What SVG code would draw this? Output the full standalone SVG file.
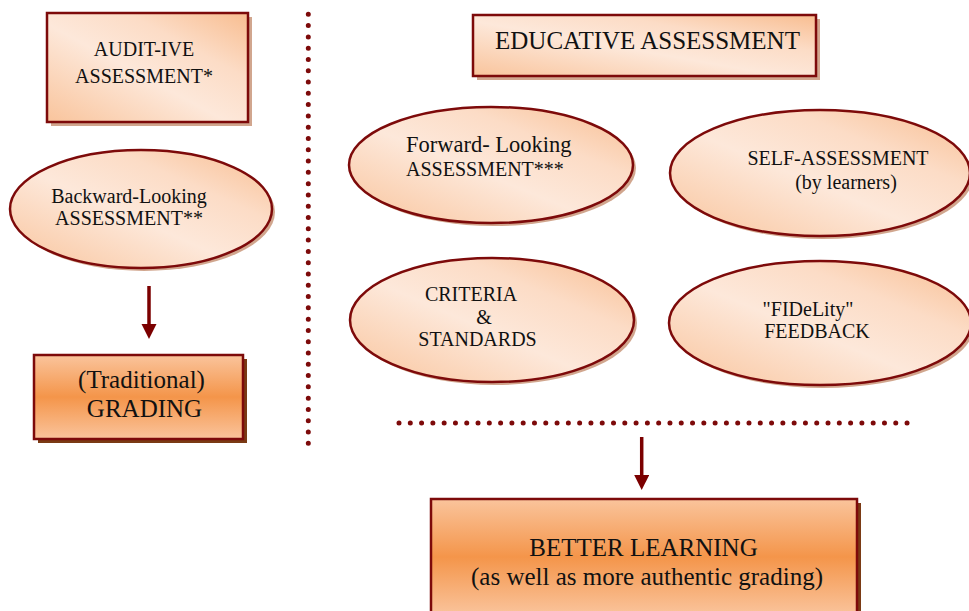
<svg xmlns="http://www.w3.org/2000/svg" width="969" height="611" viewBox="0 0 969 611">
<defs>
<linearGradient id="peach" x1="0" y1="1" x2="1" y2="0">
<stop offset="0" stop-color="#f9c49c"/>
<stop offset="0.45" stop-color="#fde8da"/>
<stop offset="0.7" stop-color="#fcdcc6"/>
<stop offset="1" stop-color="#f8bd90"/>
</linearGradient>
<linearGradient id="orange" x1="0" y1="0" x2="0" y2="1">
<stop offset="0" stop-color="#fac49c"/>
<stop offset="0.5" stop-color="#f4954a"/>
<stop offset="1" stop-color="#fac49c"/>
</linearGradient>
<marker id="arrow" markerUnits="userSpaceOnUse" markerWidth="16" markerHeight="16" refX="6" refY="7.5" orient="auto">
<path d="M0,0 L15,7.5 L0,15 z" fill="#7b0000"/>
</marker>
</defs>
<style>
.lt{fill:url(#peach);stroke:#7d0a0a;stroke-width:2.5}
.dk{fill:url(#orange);stroke:#7d0a0a;stroke-width:2.5}
.sh{fill:#c9967a;stroke:none;opacity:0.85}
.shd{fill:#7a3a14;stroke:none}
text{font-family:"Liberation Serif","Times New Roman",serif;fill:#111;text-anchor:middle}
.s{font-size:20px}
.b{font-size:25px}
.dots{stroke:#7d0a0a;stroke-width:5;stroke-linecap:round;stroke-dasharray:0 11.29;fill:none}
.conn{stroke:#7b0000;stroke-width:3.5;fill:none;marker-end:url(#arrow)}
</style>
<rect width="969" height="611" fill="#fff"/>

<g id="separators">
<line class="dots" x1="308.3" y1="14.3" x2="308.3" y2="444"/>
<line class="dots" x1="399" y1="423" x2="908" y2="423"/>
</g>

<g id="connectors">
<line class="conn" x1="149" y1="286" x2="149" y2="330"/>
<line class="conn" x1="641.7" y1="437" x2="641.7" y2="481"/>
</g>

<g id="auditive">
<rect class="sh" x="51" y="17" width="201" height="109"/>
<rect class="lt" x="47" y="13" width="201" height="109"/>
<text class="s" x="144" y="56">AUDIT-IVE</text>
<text class="s" x="144" y="83">ASSESSMENT*</text>
</g>

<g id="backward">
<ellipse class="sh" cx="144" cy="212" rx="131" ry="59"/>
<ellipse class="lt" cx="141" cy="209" rx="131" ry="59"/>
<text class="s" x="129" y="203">Backward-Looking</text>
<text class="s" x="129" y="225">ASSESSMENT**</text>
</g>

<g id="grading">
<rect class="shd" x="38" y="359" width="209" height="84"/>
<rect class="dk" x="34" y="355" width="209" height="84"/>
<text class="b" x="141.5" y="388">(Traditional)</text>
<text class="b" x="144.5" y="417">GRADING</text>
</g>

<g id="educative">
<rect class="sh" x="477" y="19" width="343" height="61"/>
<rect class="lt" x="473" y="15" width="343" height="61"/>
<text class="b" x="647.5" y="49">EDUCATIVE ASSESSMENT</text>
</g>

<g id="forward">
<ellipse class="sh" cx="494" cy="168" rx="142" ry="58"/>
<ellipse class="lt" cx="491" cy="165" rx="142" ry="58"/>
<text x="406" y="152" style="text-anchor:start;font-size:22.5px">Forward- Looking</text>
<text class="s" x="406" y="176" style="text-anchor:start">ASSESSMENT***</text>
</g>

<g id="self">
<ellipse class="sh" cx="823" cy="176" rx="150" ry="63"/>
<ellipse class="lt" cx="820" cy="173" rx="150" ry="63"/>
<text class="s" x="838" y="165">SELF-ASSESSMENT</text>
<text class="s" x="846" y="189">(by learners)</text>
</g>

<g id="criteria">
<ellipse class="sh" cx="495" cy="323" rx="142" ry="62"/>
<ellipse class="lt" cx="492" cy="320" rx="142" ry="62"/>
<text class="s" x="471" y="301">CRITERIA</text>
<text class="s" x="484" y="324">&amp;</text>
<text class="s" x="477.5" y="346">STANDARDS</text>
</g>

<g id="fidelity">
<ellipse class="sh" cx="823" cy="326" rx="151" ry="62"/>
<ellipse class="lt" cx="820" cy="323" rx="151" ry="62"/>
<text class="s" x="808" y="316">"FIDeLity"</text>
<text class="s" x="817" y="338">FEEDBACK</text>
</g>

<g id="better">
<rect class="shd" x="435" y="503" width="426" height="116"/>
<rect class="dk" x="431" y="499" width="426" height="116"/>
<text class="b" x="643.5" y="556">BETTER LEARNING</text>
<text class="b" x="647" y="585">(as well as more authentic grading)</text>
</g>
</svg>
